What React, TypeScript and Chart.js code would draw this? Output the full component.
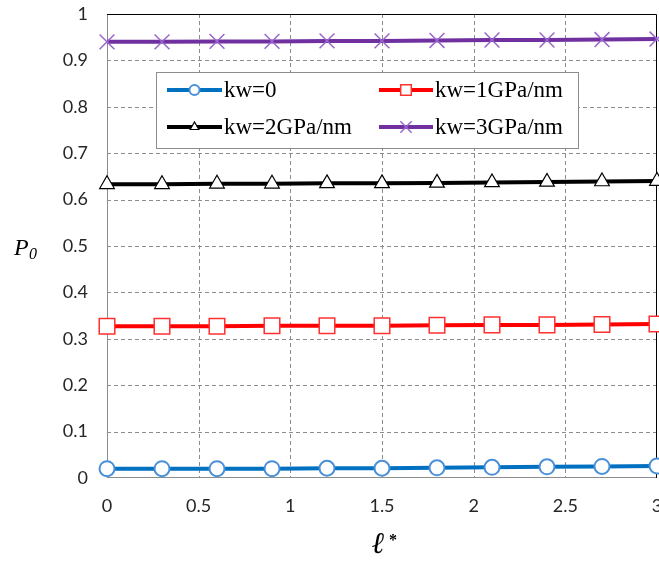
import React, { useEffect, useRef } from "react";
import { Chart, registerables } from "chart.js";

Chart.register(...registerables);

const xValues = [0, 0.3, 0.6, 0.9, 1.2, 1.5, 1.8, 2.1, 2.4, 2.7, 3.0];
const kw0 = [0.02, 0.02, 0.02, 0.02, 0.021, 0.021, 0.022, 0.023, 0.024, 0.025, 0.026];
const kw1 = [0.327, 0.327, 0.327, 0.328, 0.328, 0.328, 0.329, 0.33, 0.33, 0.331, 0.332];
const kw2 = [0.633, 0.633, 0.634, 0.634, 0.635, 0.635, 0.636, 0.637, 0.638, 0.639, 0.64];
const kw3 = [0.94, 0.94, 0.941, 0.941, 0.942, 0.942, 0.943, 0.944, 0.944, 0.945, 0.946];
const seriesLabels = ["kw=0", "kw=1GPa/nm", "kw=2GPa/nm", "kw=3GPa/nm"];
const yTicks = [0, 0.1, 0.2, 0.3, 0.4, 0.5, 0.6, 0.7, 0.8, 0.9, 1];
const xTicks = [0, 0.5, 1, 1.5, 2, 2.5, 3];

const tickFont = { family: "Lato, 'Open Sans', sans-serif", size: 18 };

function drawPointLocal(ctx: any, style: string, r: number, x: number, y: number) {
  ctx.beginPath();
  if (style === "circle") {
    ctx.arc(x, y, r, 0, Math.PI * 2);
    ctx.fill();
    ctx.stroke();
  } else if (style === "rect") {
    const s = Math.SQRT1_2 * r;
    ctx.rect(x - s, y - s, 2 * s, 2 * s);
    ctx.fill();
    ctx.stroke();
  } else if (style === "triangle") {
    const w = (r * Math.sqrt(3)) / 2;
    ctx.moveTo(x, y - r);
    ctx.lineTo(x + w, y + r / 2);
    ctx.lineTo(x - w, y + r / 2);
    ctx.closePath();
    ctx.fill();
    ctx.stroke();
  } else if (style === "crossRot") {
    const o = Math.cos(Math.PI / 4) * r;
    ctx.moveTo(x - o, y - o);
    ctx.lineTo(x + o, y + o);
    ctx.moveTo(x - o, y + o);
    ctx.lineTo(x + o, y - o);
    ctx.stroke();
  }
}

const gridPlugin = {
  id: "dashGrid",
  beforeDatasetsDraw(chart: any) {
    const ctx = chart.ctx;
    const a = chart.chartArea;
    const xs = chart.scales.x;
    const ys = chart.scales.y;
    ctx.save();
    ctx.strokeStyle = "#8c8c8c";
    ctx.lineWidth = 1;
    ctx.setLineDash([4, 3]);
    xTicks.forEach((v) => {
      if (v === 0 || v === 3) return;
      const px = Math.round(xs.getPixelForValue(v)) + 0.5;
      ctx.beginPath();
      ctx.moveTo(px, a.top);
      ctx.lineTo(px, a.bottom);
      ctx.stroke();
    });
    yTicks.forEach((v) => {
      if (v === 0 || v === 1) return;
      const py = Math.round(ys.getPixelForValue(v)) + 0.5;
      ctx.beginPath();
      ctx.moveTo(a.left, py);
      ctx.lineTo(a.right, py);
      ctx.stroke();
    });
    ctx.setLineDash([]);
    ctx.strokeStyle = "#8c8c8c";
    ctx.beginPath();
    ctx.moveTo(Math.round(a.left) + 0.5, a.top);
    ctx.lineTo(Math.round(a.left) + 0.5, a.bottom);
    ctx.moveTo(a.left, Math.round(a.bottom) - 0.5);
    ctx.lineTo(a.right, Math.round(a.bottom) - 0.5);
    ctx.stroke();
    ctx.strokeStyle = "#000";
    ctx.beginPath();
    ctx.moveTo(a.left, Math.round(a.top) + 0.5);
    ctx.lineTo(Math.round(a.right) - 0.5, Math.round(a.top) + 0.5);
    ctx.lineTo(Math.round(a.right) - 0.5, a.bottom);
    ctx.stroke();
    ctx.restore();
  },
};

const customPlugin = {
  id: "custom",
  afterDraw(chart: any) {
    const ctx = chart.ctx;
    ctx.save();
    const bx = 156, by = 72, bw = 422, bh = 76;
    ctx.fillStyle = "#fff";
    ctx.fillRect(bx, by, bw, bh);
    ctx.strokeStyle = "#8c8c8c";
    ctx.lineWidth = 1;
    ctx.strokeRect(bx + 0.5, by + 0.5, bw, bh);

    const items = [
      { x1: 167, x2: 222, tx: 224, y: 90 },
      { x1: 379, x2: 433, tx: 435, y: 90 },
      { x1: 167, x2: 222, tx: 224, y: 127 },
      { x1: 379, x2: 433, tx: 435, y: 127 },
    ];
    const legendRadius = [5, 7.5, 5, 8];
    chart.data.datasets.forEach((ds: any, i: number) => {
      const it = items[i];
      ctx.strokeStyle = ds.borderColor;
      ctx.lineWidth = ds.borderWidth;
      ctx.beginPath();
      ctx.moveTo(it.x1, it.y);
      ctx.lineTo(it.x2, it.y);
      ctx.stroke();
      ctx.fillStyle = ds.pointBackgroundColor;
      ctx.strokeStyle = ds.pointBorderColor;
      ctx.lineWidth = ds.pointBorderWidth;
      drawPointLocal(ctx, ds.pointStyle, legendRadius[i], (it.x1 + it.x2) / 2, it.y);
      ctx.fillStyle = "#000";
      ctx.font = "23px 'Liberation Serif', 'Times New Roman', serif";
      ctx.textBaseline = "middle";
      ctx.textAlign = "left";
      ctx.fillText(ds.label, it.tx, it.y + 1);
    });

    ctx.fillStyle = "#000";
    ctx.textBaseline = "alphabetic";
    ctx.font = "italic 24px 'Liberation Serif', 'Times New Roman', serif";
    ctx.fillText("P", 14, 255);
    ctx.font = "italic 16px 'Liberation Serif', 'Times New Roman', serif";
    ctx.fillText("0", 29, 259);

    ctx.font = "bold italic 30px 'DejaVu Serif', 'Liberation Serif', serif";
    ctx.fillText("\u2113", 372, 553);
    ctx.font = "bold 16px 'Liberation Serif', serif";
    ctx.fillText("*", 389, 545);
    ctx.restore();
  },
};

function toPts(vals: number[]) {
  return xValues.map((x, i) => ({ x, y: vals[i] }));
}

export default function App() {
  const ref = useRef<HTMLCanvasElement>(null);
  useEffect(() => {
    document.body.style.margin = "0";
    const chart = new Chart(ref.current!, {
      type: "line",
      data: {
        datasets: [
          {
            label: seriesLabels[0],
            data: toPts(kw0),
            borderColor: "#0070C0",
            borderWidth: 4,
            pointStyle: "circle",
            pointRadius: 7.5,
            pointBackgroundColor: "#fff",
            pointBorderColor: "#4A90D9",
            pointBorderWidth: 2,
            clip: false,
          },
          {
            label: seriesLabels[1],
            data: toPts(kw1),
            borderColor: "#FF0000",
            borderWidth: 4,
            pointStyle: "rect",
            pointRadius: 11,
            pointBackgroundColor: "#fff",
            pointBorderColor: "#FF3030",
            pointBorderWidth: 1.5,
            clip: false,
          },
          {
            label: seriesLabels[2],
            data: toPts(kw2),
            borderColor: "#000000",
            borderWidth: 4,
            pointStyle: "triangle",
            pointRadius: 8.5,
            pointBackgroundColor: "#fff",
            pointBorderColor: "#000",
            pointBorderWidth: 1.2,
            clip: false,
          },
          {
            label: seriesLabels[3],
            data: toPts(kw3),
            borderColor: "#7030A0",
            borderWidth: 4,
            pointStyle: "crossRot",
            pointRadius: 10.5,
            pointBackgroundColor: "#fff",
            pointBorderColor: "#9966CC",
            pointBorderWidth: 1.5,
            clip: false,
          },
        ] as any,
      },
      options: {
        animation: false,
        responsive: false,
        layout: { autoPadding: false, padding: { top: 14, right: 2, left: 0, bottom: 0 } } as any,
        plugins: { legend: { display: false }, tooltip: { enabled: false } },
        scales: {
          x: {
            type: "linear",
            min: 0,
            max: 3,
            afterBuildTicks: (s: any) => {
              s.ticks = xTicks.map((v) => ({ value: v }));
            },
            afterFit: (s: any) => {
              s.height = 83;
              s.paddingLeft = 0;
              s.paddingRight = 0;
            },
            ticks: {
              font: tickFont,
              color: "#262626",
              padding: 17,
              maxRotation: 0,
              autoSkip: false,
              callback: (v: any) => String(v),
            },
            grid: { display: false, drawTicks: false },
            border: { display: false },
          },
          y: {
            min: 0,
            max: 1,
            afterBuildTicks: (s: any) => {
              s.ticks = yTicks.map((v) => ({ value: v }));
            },
            afterFit: (s: any) => {
              s.width = 107;
              s.paddingTop = 0;
              s.paddingBottom = 0;
            },
            ticks: {
              font: tickFont,
              color: "#262626",
              padding: 19,
              autoSkip: false,
              callback: (v: any) => String(Math.round(v * 10) / 10),
            },
            grid: { display: false, drawTicks: false },
            border: { display: false },
          },
        },
      },
      plugins: [gridPlugin, customPlugin],
    });
    return () => chart.destroy();
  }, []);
  return <canvas ref={ref} width={659} height={561} style={{ display: "block" }} />;
}
